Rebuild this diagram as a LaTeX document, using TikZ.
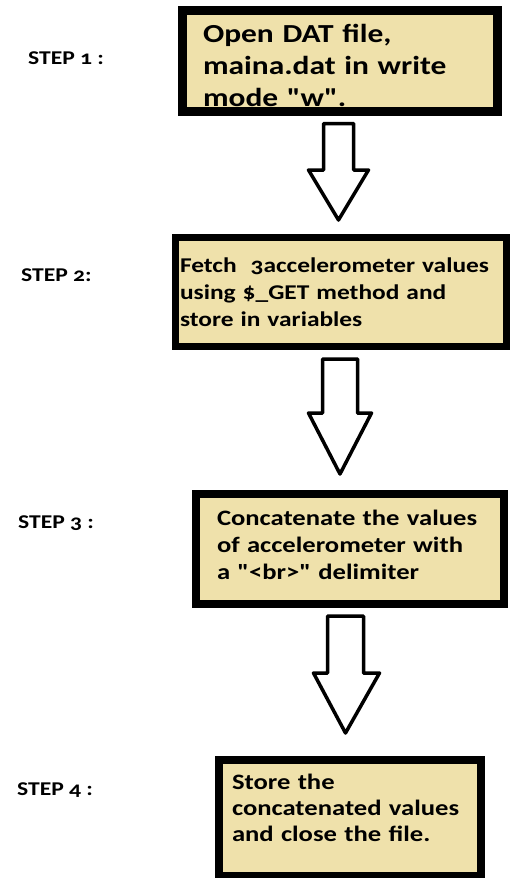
\documentclass[tikz,border=0pt]{standalone}
\usepackage{fontspec}
\setmainfont{Carlito}[Numbers=OldStyle, Ligatures=TeXOff, FakeStretch=1.21]
\begin{document}
\begin{tikzpicture}[x=1pt,y=-1pt,
stepbox/.style={rectangle, draw=black, fill=boxtan, align=left, inner sep=0pt, font=\bfseries},
steplabel/.style={anchor=west, inner sep=0pt, font=\fontsize{19.5}{22}\selectfont\bfseries},
downarrow/.style={draw=black, line width=3.5pt, line join=round, fill=white},
]
\definecolor{boxtan}{RGB}{239,225,171}
\useasboundingbox (0,0) rectangle (511,878);
%Labels
\node[steplabel] (lab1) at (28,58)  {STEP 1 :};
\node[steplabel] (lab2) at (21,275) {STEP 2:};
\node[steplabel] (lab3) at (18,523) {STEP 3 :};
\node[steplabel] (lab4) at (17,790) {STEP 4 :};
%Boxes
\node[stepbox, line width=9pt, minimum width=315, minimum height=101, text width=274,
      font=\fontsize{26}{32}\selectfont\bfseries] (box1) at (340,61)
      {\\[-5pt]Open DAT file,\\maina.dat in write\\mode "w".};
\node[stepbox, line width=7pt, minimum width=331, minimum height=109, text width=322,
      font=\fontsize{21}{27}\selectfont\bfseries] (box2) at (341,292)
      {\mbox{Fetch\ \ 3accelerometer values}\\using \$\_GET method and\\store in variables};
\node[stepbox, line width=8pt, minimum width=308, minimum height=110, text width=266,
      font=\fontsize{22}{27}\selectfont\bfseries] (box3) at (350,549)
      {Concatenate the values\\of accelerometer with\\a "<br>" delimiter\\[-19pt]\mbox{}};
\node[stepbox, line width=8pt, minimum width=262, minimum height=116, text width=236,
      font=\fontsize{22}{26}\selectfont\bfseries] (box4) at (350,818)
      {Store the\\concatenated values\\and close the file.\\[-6pt]\mbox{}};
%Arrows
\draw[downarrow] (323.5,123.5) -- (353.5,123.5) -- (353.5,170) -- (368.5,170)
  -- (338.5,220) -- (308.5,170) -- (323.5,170) -- cycle;
\draw[downarrow] (322.5,359) -- (357.5,359) -- (357.5,413) -- (371.5,413)
  -- (340,474) -- (308.5,413) -- (322.5,413) -- cycle;
\draw[downarrow] (327.5,616) -- (363.5,616) -- (363.5,673) -- (379.5,673)
  -- (345.5,733) -- (313.5,673) -- (327.5,673) -- cycle;
\end{tikzpicture}
\end{document}
